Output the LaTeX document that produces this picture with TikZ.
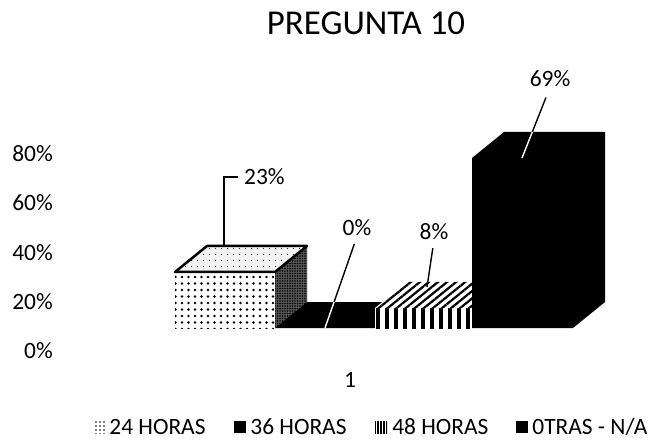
\documentclass[tikz,border=0pt]{standalone}
\usepackage{fontspec}
\setmainfont{Carlito}
\usetikzlibrary{positioning}
\usetikzlibrary{patterns,patterns.meta}
\usetikzlibrary{calc}

\tikzset{
	lbl/.style={font=\fontsize{23.5}{26}\selectfont,inner sep=0pt},
	leader/.style={line width=1.4bp},
	keybox/.style={minimum size=12bp,inner sep=0pt},
}

\begin{document}
\begin{tikzpicture}[x=1bp,y=-1bp]
	\useasboundingbox (0,0) rectangle (651,446);
	\node[font=\fontsize{35}{40}\selectfont,inner sep=0pt] (title) at (366,23) {PREGUNTA 10};

	% axis labels
	\foreach \v [count=\i from 0] in {0,20,40,60,80} \node[lbl,anchor=east] (tick\i) at (53,351-49.3*\i) {\v\%};
	\node[lbl] (cat1) at (350,380) {1};

	% bar 24 horas
	\fill[preaction={fill=white},pattern={Dots[distance=6.5bp,radius=1.3bp]}] (175,272) rectangle (275,328);
	\fill[preaction={fill=black!65},pattern={Dots[distance=2.5bp,radius=0.9bp]}] (275,272) -- (307,246) -- (307,302) -- (275,328) -- cycle;
	\draw[line width=2.5bp,line join=round,preaction={fill=black!5},pattern={Dots[distance=6bp,radius=0.6bp]}] (175,272) -- (207,246) -- (307,246) -- (275,272) -- cycle;

	% bar 36 horas
	\fill[black] (275,328) -- (375,328) -- (407,302) -- (307,302) -- cycle;

	% bar 48 horas
	\fill[preaction={fill=white},pattern={Lines[angle=90,distance=9bp,line width=3.2bp]}] (375,308) rectangle (472,328);
	\fill[preaction={fill=white},pattern={Lines[angle=39,distance=5.7bp,line width=2.2bp]}] (375,308) -- (407,282) -- (504,282) -- (472,308) -- cycle;

	% bar otras
	\fill[black] (472,328) -- (472,158) -- (504,132) -- (605,132) -- (605,302) -- (573,328) -- cycle;

	% value labels
	\node[lbl,anchor=west] (lab23) at (244,177) {23\%};
	\node[lbl] (lab0) at (357,228) {0\%};
	\node[lbl] (lab8) at (434,232) {8\%};
	\node[lbl] (lab69) at (550,79) {69\%};
	\coordinate (tip23) at (224,247);
	\coordinate (tip0) at (325,328);
	\coordinate (tip8) at (427,287);
	\coordinate (tip69) at (522,158);

	% leaders
	\draw[leader] (tip23) |- ([xshift=-6bp]lab23.west);
	\draw[leader,shorten >=8bp] (tip0) -- (lab0.south);
	\draw[leader,shorten >=8bp] (tip8) -- (lab8.south);
	\draw[leader,shorten >=11bp] (tip69) -- (lab69.south);
	\begin{scope}
		\clip (275,328) -- (375,328) -- (407,302) -- (307,302) -- cycle;
		\draw[leader,white,shorten >=8bp] (tip0) -- (lab0.south);
	\end{scope}
	\begin{scope}
		\clip (472,328) -- (472,158) -- (504,132) -- (605,132) -- (605,302) -- (573,328) -- cycle;
		\draw[leader,white,shorten >=11bp] (tip69) -- (lab69.south);
	\end{scope}

	% legend
	\node[keybox,pattern={Dots[distance=4bp,radius=0.9bp]}] (key24) at (99,427) {};
	\node[lbl,right=4bp of key24] (leg24) {24 HORAS};
	\node[keybox,fill=black] (key36) at (240,427) {};
	\node[lbl,right=4bp of key36] (leg36) {36 HORAS};
	\node[keybox,pattern={Lines[angle=90,distance=3bp,line width=2.3bp]}] (key48) at (381,427) {};
	\node[lbl,right=4bp of key48] (leg48) {48 HORAS};
	\node[keybox,fill=black] (keyot) at (522,427) {};
	\node[lbl,right=4bp of keyot] (legot) {0TRAS - N/A};
\end{tikzpicture}
\end{document}
